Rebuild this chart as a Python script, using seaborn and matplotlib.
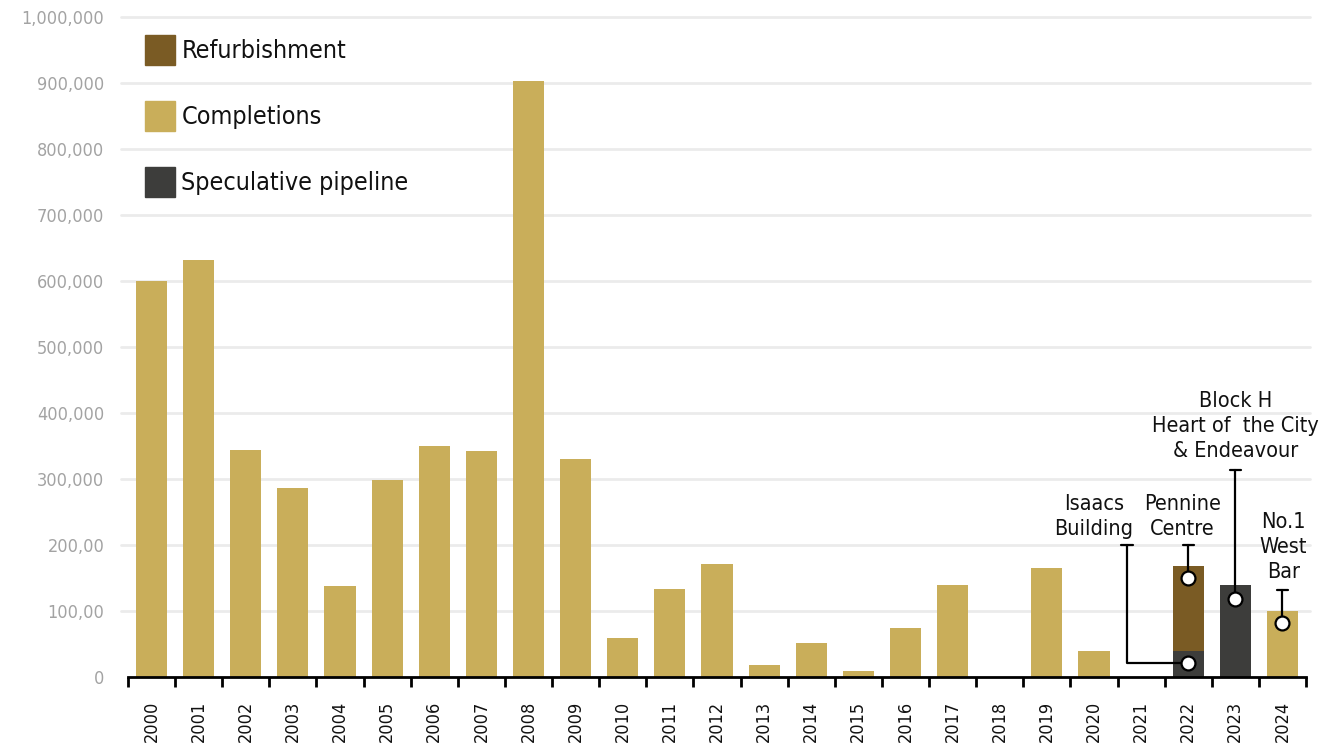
import matplotlib
matplotlib.use("Agg")
import matplotlib.pyplot as plt
from matplotlib.patches import Patch
import seaborn as sns
import pandas as pd

# Data (sq ft)
years = [str(y) for y in range(2000, 2025)]
completions = [600000, 632000, 344000, 287000, 138000, 299000, 350000, 343000, 904000, 331000,
               59000, 133000, 171000, 18000, 52000, 9000, 74000, 140000, 0, 165000,
               39000, 0, 0, 0, 100000]
refurbishment = [0] * 22 + [128000, 0, 0]
speculative = [0] * 22 + [40000, 140000, 0]

ytick_vals = [0, 100000, 200000, 300000, 400000, 500000, 600000, 700000, 800000, 900000, 1000000]
ytick_labels = ["0", "100,00", "200,00", "300,000", "400,000", "500,000", "600,000",
                "700,000", "800,000", "900,000", "1,000,000"]

df = pd.DataFrame({
    "year": years,
    "Completions": completions,
    "Refurbishment": refurbishment,
    "Speculative pipeline": speculative,
})
# refurbishment sits on top of the speculative part in 2022
df["refurb_top"] = df["Refurbishment"] + df["Speculative pipeline"]

c_comp = "#c9ae5a"
c_refurb = "#7a5b24"
c_spec = "#3d3d3b"

sns.set_style("white")
plt.rcParams["font.family"] = ["DejaVu Sans"]
plt.rcParams["font.stretch"] = "condensed"
plt.rcParams["text.color"] = "#111111"

fig = plt.figure(figsize=(13.22, 7.54), dpi=100)
ax = fig.add_axes([0.0968, 0.1021, 0.8911, 0.8747])

bw = 0.66
sns.barplot(data=df, x="year", y="Completions", order=years, color=c_comp,
            width=bw, saturation=1, linewidth=0, ax=ax, zorder=2)
sns.barplot(data=df, x="year", y="refurb_top", order=years, color=c_refurb,
            width=bw, saturation=1, linewidth=0, ax=ax, zorder=2)
sns.barplot(data=df, x="year", y="Speculative pipeline", order=years, color=c_spec,
            width=bw, saturation=1, linewidth=0, ax=ax, zorder=2)

ax.set_xlim(-0.5, len(years) - 0.5)
ax.set_ylim(0, 1000000)

# gridlines, a bit wider than the axis
for v in ytick_vals[1:]:
    ax.plot([-0.65, 24.58], [v, v], color="#ebebeb", lw=2, zorder=0, clip_on=False)

ax.set_yticks(ytick_vals)
ax.set_yticklabels(ytick_labels, color="#a3a3a3", fontsize=13)
ax.tick_params(axis="y", length=0, pad=17)

ax.set_xticks(range(len(years)))
ax.set_xticklabels(years, rotation=90, fontsize=13, va="top", color="#111111")
ax.set_xticks([i - 0.5 for i in range(len(years) + 1)], minor=True)
ax.tick_params(axis="x", which="major", bottom=True, length=0, pad=17)
ax.tick_params(axis="x", which="minor", bottom=True, length=7, width=2, color="black")

for s in ["top", "right", "left"]:
    ax.spines[s].set_visible(False)
ax.spines["bottom"].set_linewidth(2)
ax.spines["bottom"].set_color("black")
ax.set_xlabel("")
ax.set_ylabel("")

handles = [Patch(color=c_refurb, label="Refurbishment"),
           Patch(color=c_comp, label="Completions"),
           Patch(color=c_spec, label="Speculative pipeline")]
ax.legend(handles=handles, loc="upper left", bbox_to_anchor=(0.0145, 0.973), frameon=False,
          fontsize=18, handlelength=1.2, handleheight=1.45, handletextpad=0.25,
          labelspacing=1.45, borderaxespad=0, borderpad=0)

# annotations
lk = dict(color="black", lw=1.6, zorder=4, clip_on=False)
mk = dict(marker="o", ms=10, mfc="white", mec="black", mew=1.6, zorder=5, ls="none", clip_on=False)
cap = 0.12
tk = dict(ha="center", va="bottom", fontsize=15.5, linespacing=1.3, zorder=6)

# Isaacs Building
ax.plot([22, 20.7, 20.7], [21000, 21000, 200000], **lk)
ax.plot([20.7 - cap, 20.7 + cap], [200000, 200000], **lk)
ax.plot([22], [21000], **mk)
ax.text(20.0, 210000, "Isaacs\nBuilding", **tk)

# Pennine Centre
ax.plot([22, 22], [150000, 200000], **lk)
ax.plot([22 - cap, 22 + cap], [200000, 200000], **lk)
ax.plot([22], [150000], **mk)
ax.text(21.88, 210000, "Pennine\nCentre", **tk)

# Block H
ax.plot([23, 23], [118000, 314000], **lk)
ax.plot([23 - cap, 23 + cap], [314000, 314000], **lk)
ax.plot([23], [118000], **mk)
ax.text(23.0, 328000, "Block H\nHeart of  the City\n& Endeavour", **tk)

# No.1 West Bar
ax.plot([24, 24], [82000, 132000], **lk)
ax.plot([24 - cap, 24 + cap], [132000, 132000], **lk)
ax.plot([24], [82000], **mk)
ax.text(24.02, 144000, "No.1\nWest\nBar", **tk)

fig.savefig("out.png", dpi=100)
